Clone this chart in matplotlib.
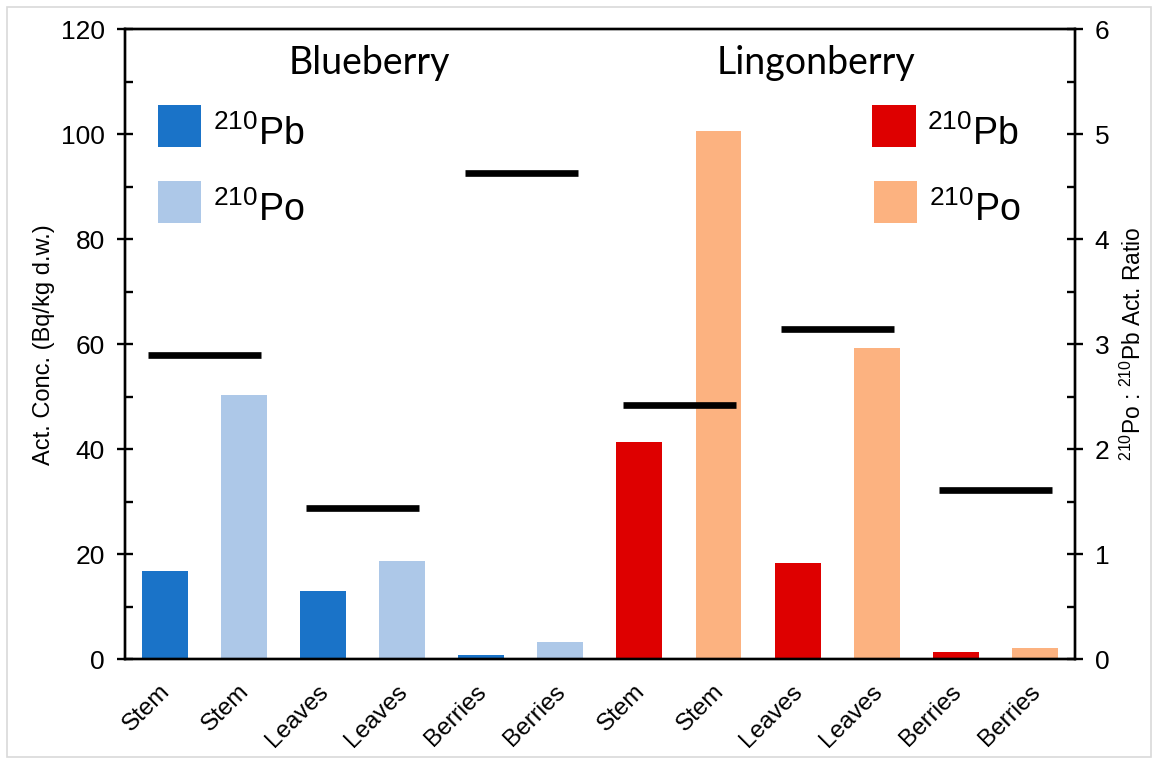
import matplotlib
matplotlib.use("Agg")
import matplotlib.pyplot as plt
from matplotlib.patches import Rectangle
from matplotlib.transforms import ScaledTranslation
import numpy as np

plt.rcParams['font.family'] = ['Liberation Sans', 'DejaVu Sans']
plt.rcParams['mathtext.fontset'] = 'custom'
plt.rcParams['mathtext.rm'] = 'Liberation Sans'
plt.rcParams['mathtext.default'] = 'regular'

# Sample parts, in plotted order (Pb bar then Po bar for each part)
parts = ['Stem', 'Stem', 'Leaves', 'Leaves', 'Berries', 'Berries',
         'Stem', 'Stem', 'Leaves', 'Leaves', 'Berries', 'Berries']

# Activity concentrations, Bq/kg d.w.
blue_pb = [16.8, 13.0, 0.9]
blue_po = [50.3, 18.7, 3.3]
lingon_pb = [41.3, 18.3, 1.3]
lingon_po = [100.6, 59.2, 2.1]

# 210Po : 210Pb activity ratios per part
blue_ratio = [2.90, 1.44, 4.63]
lingon_ratio = [2.42, 3.15, 1.61]

colors = {
    'blue_pb': '#1A73C8',
    'blue_po': '#ADC8E8',
    'red_pb': '#DE0000',
    'red_po': '#FCB280',
}

fig = plt.figure(figsize=(11.58, 7.60), dpi=100)
ax = fig.add_axes([0.108, 0.1325, 0.820, 0.829])
ax2 = ax.twinx()

x = np.arange(len(parts))
w = 0.58
ax.bar(x[0:6:2], blue_pb, w, color=colors['blue_pb'], zorder=2)
ax.bar(x[1:6:2], blue_po, w, color=colors['blue_po'], zorder=2)
ax.bar(x[6:12:2], lingon_pb, w, color=colors['red_pb'], zorder=2)
ax.bar(x[7:12:2], lingon_po, w, color=colors['red_po'], zorder=2)

# ratio bars spanning each Pb/Po pair
pair_start = x[0::2]
ratios = blue_ratio + lingon_ratio
ax2.hlines(ratios, pair_start - 0.21, pair_start + 1.22, color='black',
           linewidth=4.8, zorder=3)

ax.set_xlim(-0.5, len(parts) - 0.5)
ax.set_ylim(0, 120)
ax2.set_ylim(0, 6)
ax.set_yticks(np.arange(0, 121, 20))
ax.set_yticks(np.arange(10, 120, 20), minor=True)
ax2.set_yticks(np.arange(0, 7, 1))
ax2.set_yticks(np.arange(0.5, 6, 1), minor=True)

ax.set_xticks(x)
ax.set_xticklabels(parts, rotation=45, ha='right', va='top',
                   rotation_mode='anchor', fontsize=17.5)
ax.tick_params(axis='x', length=0, pad=13)
# nudge the slanted labels a little left/down
shift = ScaledTranslation(-0.06, -0.03, fig.dpi_scale_trans)
for lbl in ax.get_xticklabels():
    lbl.set_transform(lbl.get_transform() + shift)

for a in (ax, ax2):
    for s in a.spines.values():
        s.set_linewidth(1.7)
    a.tick_params(axis='y', which='major', direction='inout', length=11,
                  width=1.7, labelsize=19, pad=9)
    a.tick_params(axis='y', which='minor', direction='in', length=5.5,
                  width=1.7)

ax.set_ylabel('Act. Conc. (Bq/kg d.w.)', fontsize=17, labelpad=4)
ax2.set_ylabel('$^{210}$Po : $^{210}$Pb Act. Ratio', fontsize=16.3,
               labelpad=8)

# group titles
ax.text(0.257, 0.929, 'Blueberry', transform=ax.transAxes, ha='center',
        va='baseline', fontsize=27, family='Lato')
ax.text(0.728, 0.929, 'Lingonberry', transform=ax.transAxes, ha='center',
        va='baseline', fontsize=27, family='Lato')

# hand-placed legends for each berry
def legend_entry(x0, y0, color, label):
    ax.add_patch(Rectangle((x0, y0), 0.0455, 0.0665, transform=ax.transAxes,
                           facecolor=color, edgecolor='none', zorder=4))
    ax.text(x0 + 0.058, y0 + 0.003, label, transform=ax.transAxes,
            ha='left', va='baseline', fontsize=27)

legend_entry(0.0348, 0.813, colors['blue_pb'], '$^{210}$Pb')
legend_entry(0.0348, 0.6925, colors['blue_po'], '$^{210}$Po')
legend_entry(0.787, 0.813, colors['red_pb'], '$^{210}$Pb')
legend_entry(0.789, 0.6925, colors['red_po'], '$^{210}$Po')

# thin grey frame around the figure
fig.patches.append(Rectangle((0.006, 0.004), 0.988, 0.987,
                             transform=fig.transFigure, fill=False,
                             edgecolor='#D9D9D9', linewidth=1.2))

fig.savefig('out.png', dpi=100, facecolor='white')
